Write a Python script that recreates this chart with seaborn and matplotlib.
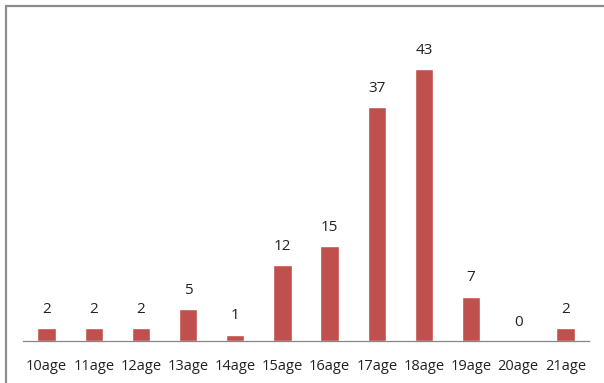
import matplotlib
matplotlib.use("Agg")
import matplotlib.pyplot as plt
from matplotlib.lines import Line2D
import seaborn as sns
import pandas as pd

ages = ["10age", "11age", "12age", "13age", "14age", "15age",
        "16age", "17age", "18age", "19age", "20age", "21age"]
counts = [2, 2, 2, 5, 1, 12, 15, 37, 43, 7, 0, 2]

df = pd.DataFrame({"age": ages, "count": counts})

sns.set_style("white")
plt.rcParams["font.family"] = ["Open Sans", "DejaVu Sans"]

fig = plt.figure(figsize=(6.04, 3.83), dpi=100)
ax = fig.add_axes([23 / 604, 42 / 383, 566 / 604, 316 / 383])

bar_color = "#C0504D"
sns.barplot(data=df, x="age", y="count", color=bar_color, saturation=1,
            width=0.39, ax=ax)

ax.set_ylim(0, 50)
ax.set_xlim(-0.5, len(ages) - 0.5)
ax.set_xlabel("")
ax.set_ylabel("")
ax.set_yticks([])

for i, v in enumerate(counts):
    ax.text(i, v + 1.8, str(v), ha="center", va="bottom",
            fontsize=11, color="#222222")

for side in ["top", "right", "left"]:
    ax.spines[side].set_visible(False)
ax.spines["bottom"].set_color("#868686")
ax.spines["bottom"].set_linewidth(0.9)
ax.tick_params(axis="x", length=0, pad=13, labelsize=10.5, labelcolor="#222222")

# chart-area frame (top and left edges)
fig.add_artist(Line2D([6 / 604, 1.0], [1 - 6 / 383, 1 - 6 / 383],
                      transform=fig.transFigure, color="#8c8c8c", lw=1.6))
fig.add_artist(Line2D([6 / 604, 6 / 604], [0.0, 1 - 6 / 383],
                      transform=fig.transFigure, color="#8c8c8c", lw=1.6))

fig.savefig("out.png", dpi=100)
